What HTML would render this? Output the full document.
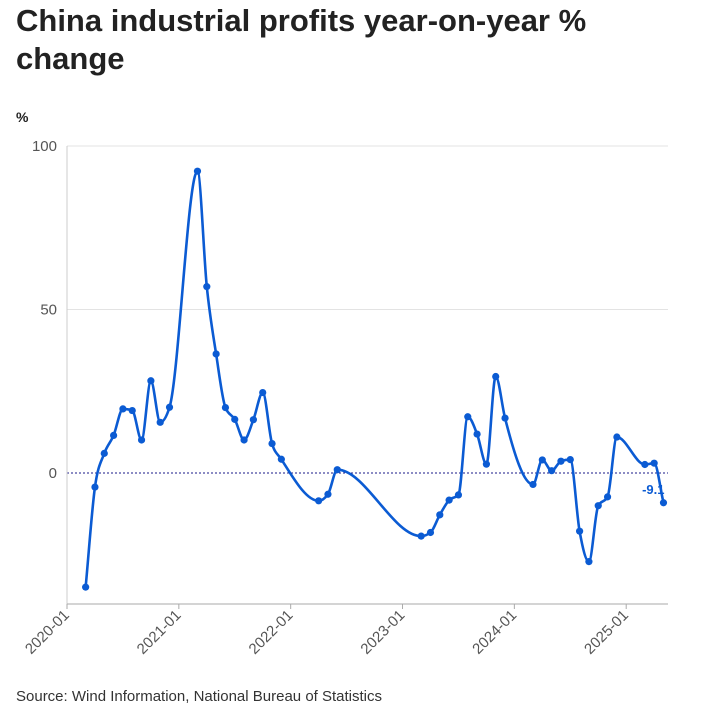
<!DOCTYPE html>
<html><head><meta charset="utf-8"><style>
body{margin:0;background:#fff;width:708px;height:713px;overflow:hidden;font-family:"Liberation Sans",sans-serif}
h1{position:absolute;left:16px;top:2px;margin:0;font-size:31px;line-height:38px;font-weight:700;color:#222;width:680px}
.src{position:absolute;left:16px;top:688px;font-size:15px;color:#333}
svg{position:absolute;left:0;top:0}
</style></head><body>
<h1>China industrial profits year-on-year % change</h1>
<svg id="c" width="708" height="713"></svg>
<div class="src">Source: Wind Information, National Bureau of Statistics</div>
<script>
const months=["2020-03","2020-04","2020-05","2020-06","2020-07","2020-08","2020-09","2020-10","2020-11","2020-12",
"2021-03","2021-04","2021-05","2021-06","2021-07","2021-08","2021-09","2021-10","2021-11","2021-12",
"2022-04","2022-05","2022-06",
"2023-03","2023-04","2023-05","2023-06","2023-07","2023-08","2023-09","2023-10","2023-11","2023-12",
"2024-03","2024-04","2024-05","2024-06","2024-07","2024-08","2024-09","2024-10","2024-11","2024-12",
"2025-03","2025-04","2025-05"];
const values=[-34.9,-4.3,6.0,11.5,19.6,19.1,10.1,28.2,15.5,20.1,
92.3,57.0,36.4,20.0,16.4,10.1,16.3,24.6,9.0,4.2,
-8.5,-6.5,1.0,
-19.3,-18.2,-12.8,-8.3,-6.7,17.2,11.9,2.7,29.5,16.8,
-3.5,4.0,0.7,3.6,4.1,-17.8,-27.1,-10.0,-7.3,11.0,
2.6,3.0,-9.1];
const yTicks=[0,50,100];
const xTicks=["2020-01","2021-01","2022-01","2023-01","2024-01","2025-01"];
const svg=document.getElementById('c');const NS="http://www.w3.org/2000/svg";
function x(m){const [y,mo]=m.split('-').map(Number);return 67+((y-2020)*12+mo-1)*9.32;}
function yS(v){return 473-v*3.27;}
function el(t,a,p){const e=document.createElementNS(NS,t);for(const k in a)e.setAttribute(k,a[k]);(p||svg).appendChild(e);return e;}
let t=el('text',{x:16,y:122,'font-size':14,'font-weight':'bold',fill:'#222'});t.textContent='%';

yTicks.forEach(v=>{
 if(v!==0){const l=el('line',{x1:67,x2:668,y1:yS(v),y2:yS(v),stroke:'#e3e3e3'});}
 const tx=el('text',{x:57,y:yS(v)+5,'text-anchor':'end','font-size':15,fill:'#555'});tx.textContent=v;
 
});
const z=el('line',{x1:67,x2:668,y1:yS(0),y2:yS(0),stroke:'#1a1a8a','stroke-dasharray':'2,2','stroke-width':1});

el('line',{x1:67,x2:67,y1:146,y2:604,stroke:'#ccc'});
const ax=el('line',{x1:67,x2:668,y1:604,y2:604,stroke:'#aaa'});

xTicks.forEach(m=>{const X=x(m);el('line',{x1:X,x2:X,y1:604,y2:609,stroke:'#aaa'});
 const tx=el('text',{x:X+3,y:616,'text-anchor':'end','font-size':15,fill:'#555',transform:`rotate(-45 ${X+3} 616)`});tx.textContent=m;
 });
const X=months.map(x),Y=values.map(yS);const n=X.length;
// monotone X (Fritsch-Carlson, like d3.curveMonotoneX)
const s=[],m=[];
for(let i=0;i<n-1;i++)s[i]=(Y[i+1]-Y[i])/(X[i+1]-X[i]);
m[0]=s[0];m[n-1]=s[n-2];
for(let i=1;i<n-1;i++){
 if(s[i-1]*s[i]<=0)m[i]=0;
 else{const h0=X[i]-X[i-1],h1=X[i+1]-X[i],p=(s[i-1]*h1+s[i]*h0)/(h0+h1);
  m[i]=(Math.sign(s[i-1])+Math.sign(s[i]))*Math.min(Math.abs(s[i-1]),Math.abs(s[i]),0.5*Math.abs(p));}}
let d=`M${X[0]},${Y[0]}`;
for(let i=0;i<n-1;i++){const dx=(X[i+1]-X[i])/3;
 d+=`C${X[i]+dx},${Y[i]+dx*m[i]} ${X[i+1]-dx},${Y[i+1]-dx*m[i+1]} ${X[i+1]},${Y[i+1]}`;}
const ln=el('path',{d,fill:'none',stroke:'#0b5bd3','stroke-width':2.6,'stroke-linejoin':'round'});

X.forEach((px,i)=>{const cc=el('circle',{cx:px,cy:Y[i],r:3.6,fill:'#0b5bd3'});
 });
const lb=el('text',{x:X[n-1]+1,y:Y[n-1]-9,'text-anchor':'end','font-size':13,fill:'#0b5bd3','font-weight':'bold'});
lb.textContent=values[n-1];

</script>
</body></html>
